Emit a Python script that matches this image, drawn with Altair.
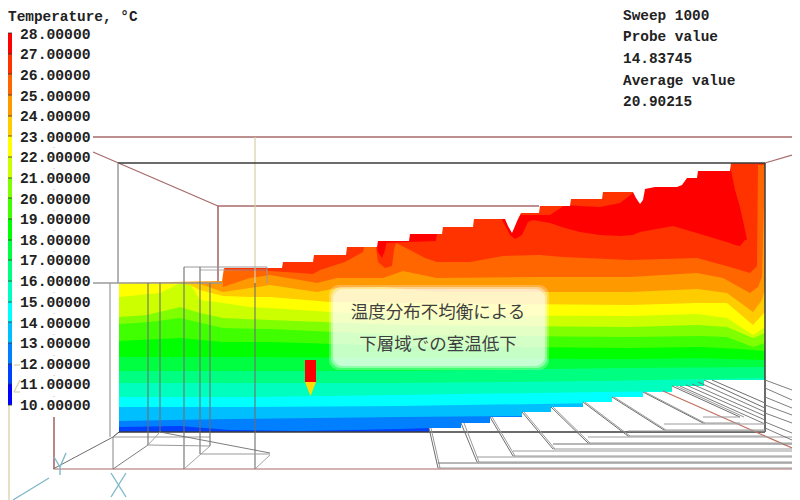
import altair as alt
import pandas as pd

# ---- legend ----
legend_labels = ["28.00000","27.00000","26.00000","25.00000","24.00000","23.00000","22.00000","21.00000","20.00000",
                 "19.00000","18.00000","17.00000","16.00000","15.00000","14.00000","13.00000","12.00000","11.00000","10.00000"]
band_colors = ["#ff0000","#ff3300","#ff6600","#ff9900","#ffcc00","#ffff00","#ccff00","#80ff00","#40ff00",
               "#00ff00","#00ff40","#00ff80","#00ffbf","#00ffff","#00bfff","#0080ff","#0040ff","#0000ff"]
legend_edges = [33,54,74,95,116,136,157,178,198,219,240,260,281,302,322,343,364,384,405]
legend_label_y = [35,55,76,97,117,138,158,179,200,220,241,261,282,303,324,344,365,385,406]

# ---- lower edge of each temperature band along the room, coolest first ----
b_0000ff = ([119,765],[432,432])
b_0040ff = ([119,765],[432,432])
b_0080ff = ([119,180,230,300,400,430,765],[427,426,430,431,429,428,428])
b_00bfff = ([119,170,230,400,520,765],[421,420,419,417,416,412])
b_00ffff = ([119,250,400,600,765],[407,407,406,403,401])
b_00ffbf = ([119,250,400,600,765],[397,397,395,392,390])
b_00ff80 = ([119,250,400,600,765],[383,383,383,381,378])
b_00ff40 = ([119,250,400,630,765],[371,371,371,368,367])
b_00ff00 = ([119,250,400,630,700,765],[357,357,358,359,358,360])
b_40ff00 = ([119,180,223,270,400,630,700,740,765],[341,338,342,342,346,348,347,349,351])
b_80ff00 = ([119,150,180,223,270,400,630,700,727,753,765],[324,322,318,328,329,335,337,336,337,347,343])
b_ccff00 = ([119,147,180,200,223,270,400,630,697,727,753,765],[317,315,307,313,318,320,325,327,325,327,338,333])
b_ffff00 = ([119,160,180,190,200,223,250,270,330,400,630,697,727,753,765],[297,293,283,284,300,303,307,308,312,315,316,314,318,335,327])
b_ffcc00 = ([119,175,190,200,223,250,270,330,400,630,697,727,753,765],[283,283,285,290,296,297,297,302,303,305,303,303,325,312])
b_ff9900 = ([119,190,200,223,250,270,317,337,383,437,630,697,727,753,762,765],[283,283,284,292,288,285,292,288,287,292,292,289,293,312,300,288])
b_ff6600 = ([119,215,223,250,270,300,317,337,383,403,437,540,630,697,723,750,758,762,765],[160,160,287,278,275,280,283,278,278,271,278,277,277,273,278,293,287,277,165])
b_ff3300 = ([119,222,225,270,285,300,313,320,345,363,366,375,378,385,392,394,396,410,425,437,470,503,540,563,630,697,730,750,757,758,765],
            [160,160,270,271,272,273,274,270,262,252,240,240,262,268,266,250,243,250,258,262,262,256,255,257,260,258,267,273,266,165,165])

# ---- hottest patches: (x, upper edge, lower edge) ----
red_main_x  = [500,503,510,515,522,528,533,550,565,580,600,620,633,640,673,700,730,735,740,745,747]
red_main_up = [215,215,215,215,215,215,215,215,205,206,207,203,193,165,165,165,165,190,207,230,240]
red_main_lo = [215,222,235,239,235,222,220,223,228,232,235,236,235,232,226,234,243,245,246,240,240]
red_a_x  = [376,378,382,385,387]
red_a_up = [240,240,240,240,240]
red_a_lo = [240,252,258,250,240]
red_b_x  = [383,410,436,437]
red_b_up = [236,230,230,230]
red_b_lo = [243,242,241,233]

# ---- white parts: ceiling profile and seating steps ----
ceil_x = [119,222,224,282,283,313,314,346,347,377,378,409,410,442,443,473,474,505,508,512,515,518,521,539,540,570,571,602,603,633,636,640,643,645,655,677,682,687,697,698,730,731,765]
ceil_y = [283,281,268,268,262,262,255,255,247,247,241,241,234,234,227,227,219,219,226,233,226,219,213,213,206,206,199,199,192,192,198,204,200,189,187,187,185,178,178,171,171,163,163]
ceil_top = [150]*len(ceil_x)
step_x = [429,461,490,522,551,583,612,643,672,704,792]
step_y = [428,423,417,412,407,402,397,392,386,380,380]

# ---- frame ----
brown = "#a86a6a"; grey = "#9a9a9a"; dark = "#3a3a3a"; beige = "#d9cfa8"; mid = "#6e6e6e"; blue = "#7fb8c8"; faint = "#c4b4b4"
segments = [
 (93,137,792,137,brown,1.3),(93,152,218,206,brown,1.3),(218,206,539,206,brown,1.3),(218,206,218,281,brown,1.6),
 (765,163,792,155,brown,1.3),(54,417,54,469,brown,1.6),(54,469,792,469,"#c99a9a",1.6),
 (255,137,255,283,beige,1.2),(9,405,9,500,beige,1.3),
 (118,163,765,163,dark,1.5),(118,163,118,283,grey,1.5),(765,163,765,432,dark,1.5),(119,432,765,432,dark,1.4),
 (93,283,222,283,grey,1.3),(184,267,267,267,grey,1.1),(200,270,267,270,grey,0.8),
 (110,283,110,437,grey,1.2),(113,437,113,469,grey,1.2),(113,437,119,432,dark,1),(53,469,113,437,mid,1),
 (113,437,210,437,grey,1),(148,283,148,445,mid,1.1),(160,283,160,432,mid,1.1),(184,267,184,469,mid,1.1),
 (200,267,200,454,mid,1.1),(210,283,210,446,mid,1.1),(255,283,255,469,mid,1.1),(267,267,267,283,grey,1),
 (148,445,210,446,grey,1),(113,469,148,445,mid,0.9),(184,469,210,446,grey,0.9),(255,469,270,455,grey,0.9),
 (200,454,270,454,grey,1),(160,432,270,453,mid,0.9),(160,432,148,445,grey,0.9),
 # faint dots of the hidden frame line between legend labels
 (54,147,54,148,faint,1),(54,168,54,169,faint,1),(54,189,54,190,faint,1),(54,210,54,211,faint,1),(54,230,54,231,faint,1),
 (54,251,54,252,faint,1),(54,272,54,273,faint,1),(54,292,54,293,faint,1),(54,313,54,314,faint,1),(54,334,54,335,faint,1),
 (54,355,54,356,faint,1),(54,375,54,376,faint,1),(54,396,54,397,faint,1),
 # axis marks
 (111,473,126,497,blue,1.4),(126,473,111,497,blue,1.4),(54,457,60,467,blue,1.4),(66,453,60,467,blue,1.4),
 (60,467,60,475,blue,1.4),(13,500,49,478,blue,1.3),(14,365,20,365,beige,1.2),(20,380,14,392,beige,1.2),(14,392,20,392,beige,1.2),
 # seating: side edges of the steps
 (429,428,438,468,mid,1),(431,428,440,468,grey,1),(461,423,477,462,mid,1),(464,423,479,462,grey,1),
 (490,417,513,456,mid,1),(492,417,515,456,grey,1),(522,412,553,449,mid,1),(524,412,555,449,grey,1),
 (551,407,588,443,mid,1),(553,407,590,443,grey,1),(583,402,628,436,mid,1),(585,402,630,436,grey,1),
 (612,397,664,430,mid,1),(614,397,666,430,grey,1),(643,392,703,423,mid,1),(645,392,705,423,grey,1),
 (672,386,740,417,mid,1),(676,386,744,417,grey,1),(704,380,765,408,mid,1),(712,380,765,403,mid,1),
 (680,386,765,424,mid,0.9),(686,385,765,420,mid,0.9),(692,384,765,416,mid,0.9),(698,382,765,412,mid,0.9),
 (663,391,792,448,"#c07060",1.2),
 # seating: long front edges
 (438,468,792,468,grey,1.2),(438,463,792,463,mid,1),(477,462,792,462,grey,1),(477,457,792,457,grey,1),
 (513,456,792,456,grey,1),(513,451,792,451,grey,1),(553,449,792,449,grey,1),(553,444,792,444,mid,1),
 (588,443,792,443,grey,1),(588,437,792,437,grey,1),(628,436,765,436,grey,1),(628,431,765,431,grey,1),
 (664,430,765,430,grey,1),(664,424,765,424,grey,1),(703,423,740,423,grey,1),(703,417,740,417,grey,1),
 # seating beyond the side wall
 (765,380,792,390,mid,0.9),(765,388,792,400,mid,0.9),(765,397,792,408,mid,0.9),(765,405,792,415,mid,0.9),
 (765,413,792,423,mid,0.9),(765,422,792,433,mid,0.9),(765,428,792,440,mid,0.9),
]

mono_texts = [("Temperature, °C",8,17),("Sweep 1000",623,16),("Probe value",623,37),("14.83745",623,59),
              ("Average value",623,81),("20.90215",623,102)]
note_texts = [("温度分布不均衡による",438,313),("下層域での室温低下",438,345)]

# ---- build ----
X = alt.X("x:Q", scale=alt.Scale(domain=[8,792], nice=False, zero=False), axis=None)
Y = alt.Y("y:Q", scale=alt.Scale(domain=[500,8], nice=False, zero=False), axis=None)
X2 = alt.X2("x2:Q"); Y2 = alt.Y2("y2:Q")

def area(xs, up, lo, color, interp="linear"):
    df = pd.DataFrame({"x":xs,"y":up,"y2":lo})
    return alt.Chart(df).mark_area(color=color, interpolate=interp, opacity=1).encode(x=X, y=Y, y2=Y2)

layers = []
field = [b_0000ff,b_0040ff,b_0080ff,b_00bfff,b_00ffff,b_00ffbf,b_00ff80,b_00ff40,b_00ff00,b_40ff00,b_80ff00,b_ccff00,b_ffff00,b_ffcc00,b_ff9900,b_ff6600,b_ff3300]
for (xs,ys),c in zip(field, band_colors[::-1]):
    layers.append(area(xs,[160]*len(xs),ys,c))
layers.append(area(red_main_x,red_main_up,red_main_lo,"#ff0000"))
layers.append(area(red_a_x,red_a_up,red_a_lo,"#ff0000"))
layers.append(area(red_b_x,red_b_up,red_b_lo,"#ff0000"))
# white above the ceiling profile, white seating steps
layers.append(area(ceil_x,ceil_top,ceil_y,"#ffffff"))
layers.append(area(step_x,step_y,[440]*len(step_x),"#ffffff","step-after"))

seg_df = pd.DataFrame(segments, columns=["x","y","x2","y2","c","w"])
layers.append(alt.Chart(seg_df).mark_rule().encode(x=X,y=Y,x2=X2,y2=Y2,
    color=alt.Color("c:N",scale=None),strokeWidth=alt.StrokeWidth("w:Q",scale=None)))

# legend ramp and ticks
ramp = pd.DataFrame({"x":[8]*18,"x2":[12]*18,"y":legend_edges[:-1],"y2":legend_edges[1:],"c":band_colors})
layers.append(alt.Chart(ramp).mark_rect().encode(x=X,x2=X2,y=Y,y2=Y2,color=alt.Color("c:N",scale=None)))
ticks = pd.DataFrame({"x":[8]*19,"x2":[12]*19,"y":legend_edges})
layers.append(alt.Chart(ticks).mark_rule(color="#333333",strokeWidth=0.8).encode(x=X,x2=X2,y=Y))
lab = pd.DataFrame({"t":legend_labels,"x":[20]*19,"y":legend_label_y})
layers.append(alt.Chart(lab).mark_text(font="Liberation Mono",fontWeight="bold",fontSize=14.7,align="left",baseline="middle",color="#222222").encode(x=X,y=Y,text="t:N"))
mono = pd.DataFrame(mono_texts,columns=["t","x","y"])
layers.append(alt.Chart(mono).mark_text(font="Liberation Mono",fontWeight="bold",fontSize=14.4,align="left",baseline="middle",color="#222222").encode(x=X,y=Y,text="t:N"))

# probe marker
probe = pd.DataFrame({"x":[305],"x2":[316],"y":[360],"y2":[382]})
layers.append(alt.Chart(probe).mark_rect(color="#ff0000").encode(x=X,x2=X2,y=Y,y2=Y2))
layers.append(area([305,310.5,316],[382,382,382],[382,396,382],"#ffdd00"))

# note box with a soft edge
box = pd.DataFrame({"x":[329,331,333],"x2":[549,547,545],"y":[285,287,289],"y2":[370,368,366],"o":[0.25,0.4,0.5]})
layers.append(alt.Chart(box).mark_rect(color="#ffffff",cornerRadius=10).encode(x=X,x2=X2,y=Y,y2=Y2,
    opacity=alt.Opacity("o:Q",scale=None)))
note = pd.DataFrame(note_texts,columns=["t","x","y"])
layers.append(alt.Chart(note).mark_text(font="Noto Sans CJK JP",fontSize=17.5,align="center",baseline="middle",color="#3f3f3f").encode(x=X,y=Y,text="t:N"))

chart = alt.layer(*layers).properties(width=784,height=492,padding=0,background="#ffffff",
    autosize=alt.AutoSizeParams(type="none")).configure_view(stroke=None)
chart.save("out.html", embed_options={"renderer":"svg","actions":False})
